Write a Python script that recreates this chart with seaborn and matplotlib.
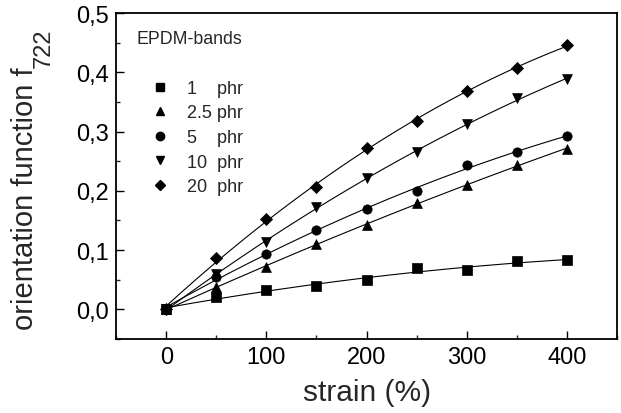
import numpy as np
import pandas as pd
import matplotlib
matplotlib.use("Agg")
import matplotlib.pyplot as plt
from matplotlib.lines import Line2D
from matplotlib.ticker import FuncFormatter, MultipleLocator
import seaborn as sns

strain = [0, 50, 100, 150, 200, 250, 300, 350, 400]
f_1 = [0.0, 0.021, 0.033, 0.039, 0.049, 0.069, 0.067, 0.081, 0.083]
f_2_5 = [0.0, 0.037, 0.072, 0.111, 0.142, 0.179, 0.210, 0.243, 0.271]
f_5 = [0.0, 0.055, 0.094, 0.133, 0.169, 0.200, 0.243, 0.265, 0.293]
f_10 = [0.0, 0.059, 0.113, 0.173, 0.221, 0.266, 0.312, 0.356, 0.388]
f_20 = [0.0, 0.087, 0.152, 0.206, 0.272, 0.318, 0.369, 0.407, 0.446]
series_labels = ["1", "2.5", "5", "10", "20"]
legend_texts = ["1    phr", "2.5 phr", "5    phr", "10  phr", "20  phr"]
markers = ["s", "^", "o", "v", "D"]
msizes = [45, 50, 45, 50, 38]

sns.set_theme(style="ticks")
plt.rcParams['font.family'] = ['Liberation Sans', 'DejaVu Sans']

all_vals = [f_1, f_2_5, f_5, f_10, f_20]
df = pd.concat([pd.DataFrame({"strain": strain, "f": v, "series": s})
                for v, s in zip(all_vals, series_labels)], ignore_index=True)

xs = np.linspace(0, 400, 200)
fits = []
for v, s in zip(all_vals, series_labels):
    c = np.polyfit(strain, v, 2)
    fits.append(pd.DataFrame({"strain": xs, "f": np.polyval(c, xs), "series": s}))
fit_df = pd.concat(fits, ignore_index=True)

W, H = 621, 414
fig, ax = plt.subplots(figsize=(W / 100, H / 100), dpi=100)
fig.subplots_adjust(left=0.187, right=0.9936, top=0.966, bottom=0.179)

sns.lineplot(data=fit_df, x="strain", y="f", units="series", estimator=None,
             color="black", linewidth=0.8, ax=ax, legend=False)
for s, m, ms in zip(series_labels, markers, msizes):
    sub = df[df["series"] == s]
    sns.scatterplot(data=sub, x="strain", y="f", marker=m, s=ms, color="black",
                    edgecolor="black", linewidth=0.5, ax=ax, legend=False, zorder=3)

ax.set_xlim(-50, 450)
ax.set_ylim(-0.05, 0.5)
ax.xaxis.set_major_locator(MultipleLocator(100))
ax.xaxis.set_minor_locator(MultipleLocator(50))
ax.yaxis.set_major_locator(MultipleLocator(0.1))
ax.yaxis.set_minor_locator(MultipleLocator(0.05))
ax.yaxis.set_major_formatter(FuncFormatter(lambda v, p: f"{v:.1f}".replace(".", ",")))
ax.tick_params(which="major", direction="in", length=6, width=1.0, labelsize=17,
               top=False, right=False, colors="black", pad=5)
ax.tick_params(which="minor", direction="in", length=3, width=1.0, top=False, right=False)
for sp in ax.spines.values():
    sp.set_linewidth(1.3)
    sp.set_color("black")
    sp.set_visible(True)

ax.set_xlabel("strain (%)", fontsize=21.5, labelpad=7)
ax.set_ylabel("")
fig.text(33 / W, 1 - 330 / H, "orientation function f", rotation=90,
         rotation_mode="anchor", ha="left", va="baseline", fontsize=21)
fig.text(50 / W, 1 - 68 / H, "722", rotation=90,
         rotation_mode="anchor", ha="left", va="baseline", fontsize=17)

ax.text(0.04, 0.923, "EPDM-bands", transform=ax.transAxes, fontsize=12.8,
        va="center", ha="left")
handles = [Line2D([], [], linestyle="none", marker=m, color="black",
                  markersize=6 if m != "D" else 5) for m in markers]
ax.legend(handles, legend_texts, loc="upper left", bbox_to_anchor=(0.07, 0.795),
          frameon=False, fontsize=13, handlelength=1.0, handletextpad=1.0,
          labelspacing=0.42, borderaxespad=0, borderpad=0)

fig.savefig("out.png", dpi=100)
